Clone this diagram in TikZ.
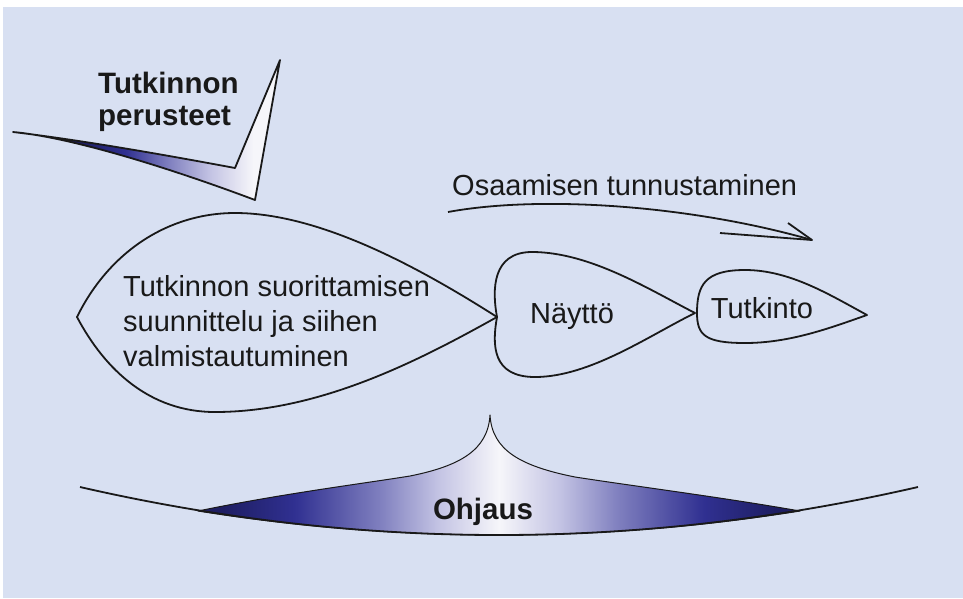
\documentclass[tikz,border=0pt]{standalone}
\usepackage{fontspec}
\setmainfont{Liberation Sans}
\definecolor{bgblue}{RGB}{216,224,242}
\definecolor{navydark}{RGB}{30,30,98}
\definecolor{navymid}{RGB}{48,48,145}
\definecolor{lavender}{RGB}{126,126,190}
\definecolor{lavlight}{RGB}{196,196,228}
\definecolor{palewhite}{RGB}{246,246,250}
\definecolor{ink}{RGB}{25,25,25}
\pgfdeclarehorizontalshading{perusteetshade}{100bp}{color(0bp)=(navydark); color(38bp)=(navydark); color(46bp)=(navymid); color(54bp)=(lavender); color(62bp)=(lavlight); color(70bp)=(palewhite); color(100bp)=(palewhite)}
\pgfdeclarehorizontalshading{ohjausshade}{100bp}{color(0bp)=(navydark); color(27bp)=(navydark); color(33bp)=(navymid); color(40bp)=(lavender); color(45bp)=(lavlight); color(50bp)=(palewhite); color(55bp)=(lavlight); color(60bp)=(lavender); color(67bp)=(navymid); color(73bp)=(navydark); color(100bp)=(navydark)}

\begin{document}
\begin{tikzpicture}[x=1pt,y=-1pt,
	outline/.style={draw=ink, line width=1.8pt, line join=round},
	txt/.style={inner sep=0pt, text=ink, font=\fontsize{29}{35}\selectfont}]
		\useasboundingbox (0,0) rectangle (963,598);
		\fill[bgblue] (3,7) rectangle (963,598);
		\path[outline, shade, shading=perusteetshade]
		(13,132) .. controls (80,140) and (160,154) .. (235,168) -- (280,60) -- (255,200)
		.. controls (170,168) and (70,137) .. cycle;
		\node[txt, font=\fontsize{29.5}{32}\selectfont\bfseries, anchor=north west, align=left] (perusteet) at (98,72) {Tutkinnon\\perusteet};
		\path[outline]
		(77,317) .. controls (110,250) and (170,213) .. (235,213) .. controls (320,213) and (420,268) .. (497,317)
		.. controls (420,360) and (320,412) .. (215,412) .. controls (150,412) and (105,370) .. cycle;
		\node[txt, anchor=north west, align=left] (valmistautuminen) at (123,275) {Tutkinnon suorittamisen\\suunnittelu ja siihen\\valmistautuminen};
		\path[outline]
		(497,317) .. controls (492,290) and (492,252) .. (532,252) .. controls (590,252) and (650,290) .. (695,313)
		.. controls (650,335) and (590,377) .. (535,377) .. controls (492,377) and (492,345) .. cycle;
		\node[txt, anchor=base] (naytto) at (572,323) {Näyttö};
		\path[outline]
		(697,313) .. controls (697,285) and (705,270) .. (745,270) .. controls (790,270) and (830,295) .. (867,315)
		.. controls (830,328) and (790,343) .. (745,343) .. controls (705,343) and (697,335) .. cycle;
		\node[txt, anchor=base] (tutkinto) at (762,318) {Tutkinto};
		\node[txt, anchor=base west] (tunnustaminen) at (452,195) {Osaamisen tunnustaminen};
		\coordinate (tunnalku) at (448,212);
		\coordinate (tunnkarki) at (812,240);
		\coordinate (karkiyla) at (788,223);
		\coordinate (karkiala) at (720,233);
		\draw[outline] (tunnalku) .. controls (540,195) and (690,205) .. (tunnkarki);
		\draw[outline] (karkiyla) -- (tunnkarki) -- (karkiala);
		\path[outline, line width=1pt, shade, shading=ohjausshade]
		(198,511) .. controls (280,494) and (360,484) .. (410,476) .. controls (460,466) and (488,450) .. (490,415)
		.. controls (492,450) and (520,466) .. (575,477) .. controls (640,487) and (720,497) .. (800,511)
		.. controls (599,543) and (399,543) .. cycle;
		\draw[outline] (80,487) .. controls (359,551) and (639,551) .. (918,487);
		\node[txt, font=\fontsize{29.5}{35}\selectfont\bfseries, anchor=base] (ohjaus) at (483,519) {Ohjaus};
	\end{tikzpicture}
\end{document}
